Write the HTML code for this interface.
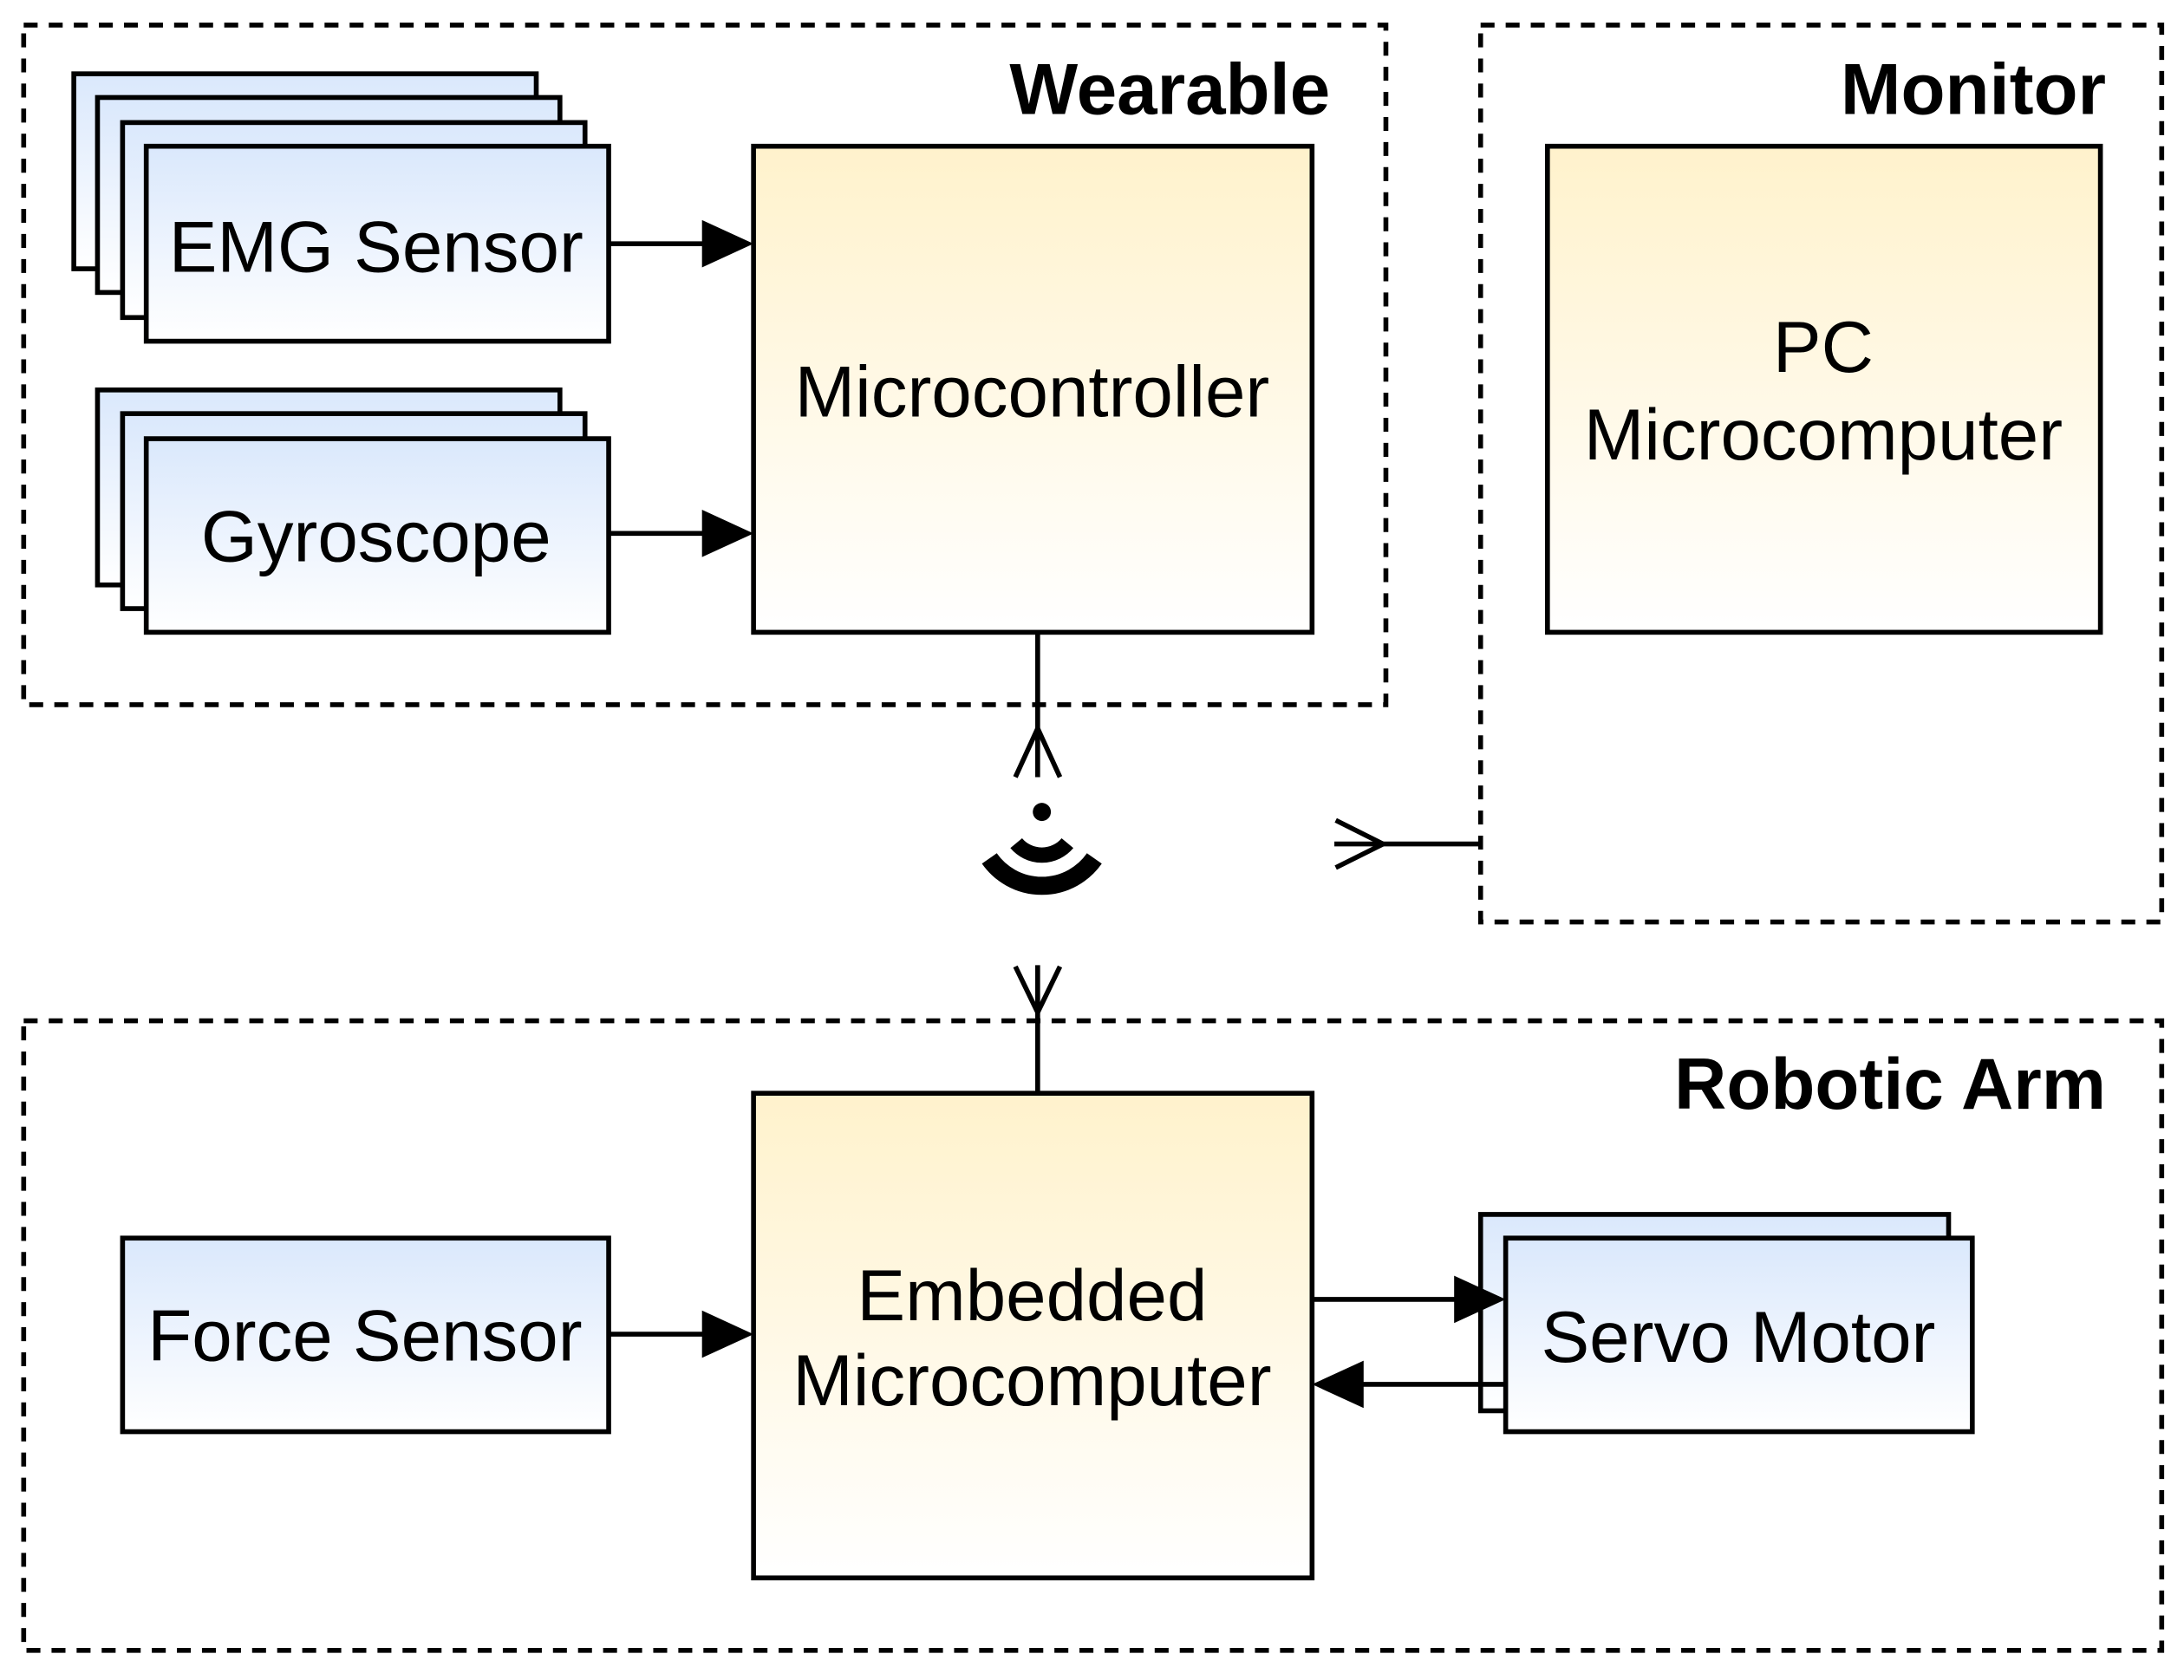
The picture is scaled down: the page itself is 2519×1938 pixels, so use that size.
<!DOCTYPE html>
<html><head><meta charset="utf-8"><style>
html,body{margin:0;padding:0;background:#fff}
svg{display:block}
text{font-family:"Liberation Sans",Arial,sans-serif;fill:#000}
</style></head><body>
<svg width="2519" height="1938" viewBox="0 0 1568 1206.3" preserveAspectRatio="none" xmlns="http://www.w3.org/2000/svg">
<defs>
<linearGradient id="b" x1="0" y1="0" x2="0" y2="1"><stop offset="0" stop-color="#dae8fc"/><stop offset="1" stop-color="#ffffff"/></linearGradient>
<linearGradient id="y" x1="0" y1="0" x2="0" y2="1"><stop offset="0" stop-color="#fff2cc"/><stop offset="1" stop-color="#ffffff"/></linearGradient>
</defs>
<g fill="none" stroke="#000" stroke-width="3.5" stroke-dasharray="10 8">
<rect x="17" y="18" width="978" height="488"/>
<rect x="1063" y="18" width="489" height="644"/>
<rect x="17" y="733" width="1535" height="452"/>
</g>
<g font-weight="bold" font-size="52" text-anchor="end">
<text x="955" y="82">Wearable</text>
<text x="1512" y="82">Monitor</text>
<text x="1512" y="796">Robotic Arm</text>
</g>
<g stroke="#000" stroke-width="3.5" fill="url(#b)">
<rect x="53" y="53" width="332" height="140"/>
<rect x="70" y="70" width="332" height="140"/>
<rect x="88" y="88" width="332" height="140"/>
<rect x="105" y="105" width="332" height="140"/>
<rect x="70" y="280" width="332" height="140"/>
<rect x="88" y="297" width="332" height="140"/>
<rect x="105" y="315" width="332" height="139"/>
<rect x="88" y="889" width="349" height="139"/>
<rect x="1063" y="872" width="336" height="141"/>
<rect x="1081" y="889" width="335" height="139"/>
</g>
<g stroke="#000" stroke-width="3.5" fill="url(#y)">
<rect x="541" y="105" width="401" height="349"/>
<rect x="1111" y="105" width="397" height="349"/>
<rect x="541" y="785" width="401" height="348"/>
</g>
<g font-size="52" text-anchor="middle">
<text x="270" y="195">EMG Sensor</text>
<text x="270" y="403">Gyroscope</text>
<text x="741" y="299">Microcontroller</text>
<text x="1309" y="267">PC</text>
<text x="1309" y="330">Microcomputer</text>
<text x="741" y="948">Embedded</text>
<text x="741" y="1009">Microcomputer</text>
<text x="262" y="977">Force Sensor</text>
<text x="1248" y="978">Servo Motor</text>
</g>
<g stroke="#000" stroke-width="3.5" fill="none">
<line x1="437" y1="175" x2="506" y2="175"/>
<line x1="437" y1="383" x2="506" y2="383"/>
<line x1="437" y1="958" x2="506" y2="958"/>
<line x1="942" y1="933" x2="1046" y2="933"/>
<line x1="1081" y1="994" x2="977" y2="994"/>
<line x1="745" y1="454" x2="745" y2="558"/>
<polyline points="729,558 745,523 761,558"/>
<line x1="745" y1="693" x2="745" y2="785"/>
<polyline points="729,694 745,727 761,694"/>
<line x1="958" y1="606" x2="1063" y2="606"/>
<polyline points="959,589 993,606 959,623"/>
</g>
<g fill="#000">
<polygon points="541,175 504,158 504,192"/>
<polygon points="541,383 504,366 504,400"/>
<polygon points="541,958 504,941 504,975"/>
<polygon points="1081,933 1044,916 1044,950"/>
<polygon points="942,994 979,977 979,1011"/>
<circle cx="748" cy="583" r="6.5"/>
</g>
<g fill="none" stroke="#000" stroke-linecap="butt">
<path d="M729.6,605.4 A24,24 0 0 0 766.4,605.4" stroke-width="11"/>
<path d="M710.3,616.4 A46,46 0 0 0 785.7,616.4" stroke-width="13"/>
</g>
</svg>
</body></html>
